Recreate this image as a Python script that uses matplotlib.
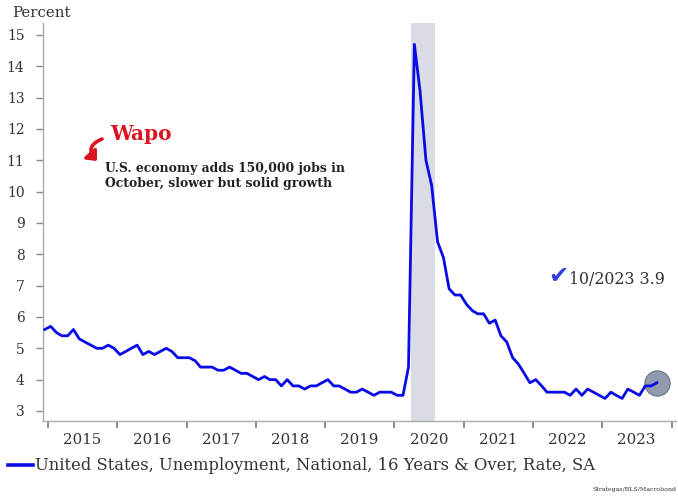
import matplotlib
matplotlib.use("Agg")
import matplotlib.pyplot as plt
import matplotlib.dates as mdates
from matplotlib.patches import FancyArrowPatch
from matplotlib.lines import Line2D
import pandas as pd
import datetime as dt

# Monthly U.S. unemployment rate (%), Dec 2014 - Oct 2023
start_month = "2014-12"
rate = [
    5.6,
    5.7, 5.5, 5.4, 5.4, 5.6, 5.3, 5.2, 5.1, 5.0, 5.0, 5.1, 5.0,   # 2015
    4.8, 4.9, 5.0, 5.1, 4.8, 4.9, 4.8, 4.9, 5.0, 4.9, 4.7, 4.7,   # 2016
    4.7, 4.6, 4.4, 4.4, 4.4, 4.3, 4.3, 4.4, 4.3, 4.2, 4.2, 4.1,   # 2017
    4.0, 4.1, 4.0, 4.0, 3.8, 4.0, 3.8, 3.8, 3.7, 3.8, 3.8, 3.9,   # 2018
    4.0, 3.8, 3.8, 3.7, 3.6, 3.6, 3.7, 3.6, 3.5, 3.6, 3.6, 3.6,   # 2019
    3.5, 3.5, 4.4, 14.7, 13.2, 11.0, 10.2, 8.4, 7.9, 6.9, 6.7, 6.7,  # 2020
    6.4, 6.2, 6.1, 6.1, 5.8, 5.9, 5.4, 5.2, 4.7, 4.5, 4.2, 3.9,   # 2021
    4.0, 3.8, 3.6, 3.6, 3.6, 3.6, 3.5, 3.7, 3.5, 3.7, 3.6, 3.5,   # 2022
    3.4, 3.6, 3.5, 3.4, 3.7, 3.6, 3.5, 3.8, 3.8, 3.9,             # 2023
]
years = list(range(2015, 2024))
y_ticks = list(range(3, 16))
shade_start, shade_end = "2020-03-28", "2020-08-04"

series_label = "United States, Unemployment, National, 16 Years & Over, Rate, SA"
last_label = "10/2023 3.9"
source_text = "Strategas/BLS/Macrobond"

W, H = 678, 497
FONT = "DejaVu Serif"
BLUE = "#0a0ae6"

dates = pd.date_range(start_month, periods=len(rate), freq="MS") + pd.Timedelta(days=14)
x = mdates.date2num(dates)

fig = plt.figure(figsize=(W / 100, H / 100), dpi=100)
fig.patch.set_facecolor("white")


def fx(px):
    return px / W


def fy(py):
    return 1 - py / H


ax_left, ax_right = 42.5, 676
ax_top, ax_bot = 23, 420.7
ax = fig.add_axes([fx(ax_left), fy(ax_bot), fx(ax_right - ax_left), (ax_bot - ax_top) / H])

ax.axvspan(mdates.datestr2num(shade_start), mdates.datestr2num(shade_end),
           color="#d9dce4", lw=0, zorder=1)
ax.plot(x, rate, color=BLUE, lw=2.0, solid_joinstyle="round", zorder=3)

# highlight the latest reading
ax.scatter([x[-1]], [rate[-1]], s=330, color="#8590a4", edgecolor="#5f6b80",
           lw=0.8, alpha=0.9, zorder=2)

x0 = mdates.date2num(dt.datetime(2015, 1, 1))
px_per_day = 69.3 / 365.25
ax.set_xlim(x0 - (48 - ax_left) / px_per_day, x0 + (ax_right - 48) / px_per_day)
ax.set_ylim(2.69, 15.38)

ax.xaxis.set_major_locator(mdates.YearLocator())
ax.xaxis.set_major_formatter(plt.NullFormatter())
ax.set_xticks([mdates.date2num(dt.datetime(y, 7, 1)) for y in years], minor=True)
ax.set_xticklabels([str(y) for y in years], minor=True)
ax.tick_params(axis="x", which="major", direction="out", length=5, width=1.2, color="#777777")
ax.tick_params(axis="x", which="minor", length=0, pad=9, labelsize=10.8, labelcolor="#333333")
ax.set_yticks(y_ticks)
ax.tick_params(axis="y", direction="out", length=5, width=1, color="#888888",
               pad=8, labelsize=10, labelcolor="#333333")
for lab in ax.get_xticklabels(minor=True) + ax.get_yticklabels():
    lab.set_family(FONT)

for side in ("top", "right"):
    ax.spines[side].set_visible(False)
for side in ("left", "bottom"):
    ax.spines[side].set_color("#aaaaaa")
    ax.spines[side].set_linewidth(1)

fig.text(fx(12), fy(13), "Percent", family=FONT, fontsize=10.8, color="#333333",
         ha="left", va="center")

# headline callout
fig.text(fx(110), fy(134), "Wapo", family=FONT, fontsize=14.5, fontweight="bold",
         color="#dc1420", ha="left", va="center")
fig.text(fx(105), fy(176), "U.S. economy adds 150,000 jobs in\nOctober, slower but solid growth",
         family=FONT, fontsize=8.9, fontweight="bold", color="#222222",
         ha="left", va="center", linespacing=1.25)
arrow = FancyArrowPatch((fx(102), fy(139)), (fx(97), fy(161)),
                        transform=fig.transFigure, connectionstyle="arc3,rad=0.7",
                        arrowstyle="-|>,head_length=0.5,head_width=0.45", color="#dc1420",
                        lw=2.6, mutation_scale=10, shrinkA=0, shrinkB=0)
fig.patches.append(arrow)

# latest value tag
fig.text(fx(558), fy(276), "\u2714", family="DejaVu Sans", fontsize=17.5, color="#3340e0",
         ha="center", va="center")
fig.text(fx(569), fy(280), last_label, family=FONT, fontsize=11.4, color="#333333",
         ha="left", va="center")

# legend
fig.add_artist(Line2D([fx(8), fx(33)], [fy(465), fy(465)], color=BLUE, lw=2.6,
                      transform=fig.transFigure))
fig.text(fx(35), fy(465), series_label, family=FONT, fontsize=11.8, color="#333333",
         ha="left", va="center")

fig.text(fx(676), fy(490), source_text, family=FONT, fontsize=4.5, color="#333333",
         ha="right", va="center")

fig.savefig("out.png", dpi=100, facecolor="white")
